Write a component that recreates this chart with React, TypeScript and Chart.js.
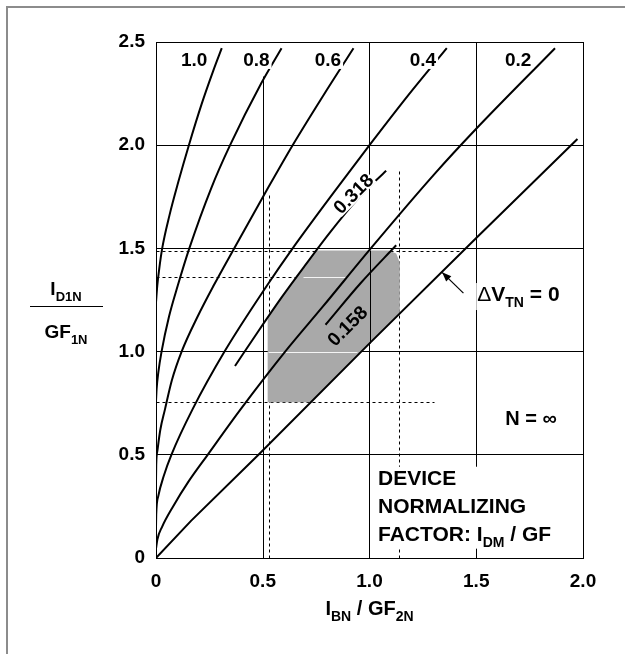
import React, { useEffect, useRef } from 'react';
import { Chart, registerables } from 'chart.js';

Chart.register(...registerables);

const FAMILY = '"Liberation Sans", Arial, Helvetica, sans-serif';

// Axis tick labels
const X_TICKS = ['0', '0.5', '1.0', '1.5', '2.0'];
const Y_TICKS = ['0', '0.5', '1.0', '1.5', '2.0', '2.5'];

// I_D1N / GF_1N against I_BN / GF_2N, one curve per threshold offset, [x, y]
const DVT_1_0 = [[0, 1.24], [0.006, 1.32], [0.015, 1.4], [0.029, 1.5], [0.063, 1.66], [0.104, 1.82], [0.154, 2.0], [0.214, 2.2], [0.268, 2.36], [0.308, 2.47]];
const DVT_0_8 = [[0, 0.76], [0.003, 0.82], [0.011, 0.9], [0.026, 1.0], [0.061, 1.17], [0.102, 1.32], [0.156, 1.5], [0.258, 1.79], [0.347, 2.0], [0.493, 2.3], [0.588, 2.47]];
const DVT_0_6 = [[0, 0.37], [0.001, 0.45], [0.0066, 0.52], [0.02, 0.62], [0.042, 0.72], [0.074, 0.86], [0.12, 1.0], [0.195, 1.17], [0.27, 1.32], [0.366, 1.5], [0.523, 1.79], [0.64, 2.0], [0.783, 2.24], [0.925, 2.47]];
const DVT_0_4 = [[0, 0.15], [0.001, 0.21], [0.0106, 0.3], [0.037, 0.4], [0.072, 0.5], [0.171, 0.72], [0.321, 1.0], [0.52, 1.32], [0.64, 1.5], [0.832, 1.77], [1.0, 2.0], [1.18, 2.24], [1.362, 2.47]];
const DVT_0_2 = [[0, 0.045], [0.0064, 0.09], [0.028, 0.15], [0.08, 0.25], [0.152, 0.37], [0.242, 0.5], [0.396, 0.72], [0.605, 1.0], [0.783, 1.22], [1.006, 1.5], [1.304, 1.86], [1.491, 2.07], [1.869, 2.47]];
const DVT_0 = [[0, 0], [0.164, 0.18], [0.48, 0.5], [1.0, 1.04], [1.5, 1.55], [1.974, 2.03]];
const DVT_0_318 = [[0.37, 0.93], [0.48, 1.1], [0.59, 1.265], [0.7, 1.42], [0.817, 1.58], [0.937, 1.73], [1.031, 1.83], [1.078, 1.876]];
const DVT_0_158 = [[0.794, 1.13], [0.957, 1.33], [1.125, 1.515]];

// Operating region between the 0.318 curve and the ΔV_TN = 0 line
const REGION = [[0.523, 0.755], [0.523, 1.17], [0.59, 1.265], [0.65, 1.35], [0.7, 1.42], [0.75, 1.49], [1.09, 1.49], [1.125, 1.475], [1.142, 1.43], [1.142, 1.19], [0.726, 0.755], [0.523, 0.755]];

// Dashed read-off lines: horizontal [y, x0, x1], vertical [x, y0, y1]
const H_DASHED = [[1.487, 0, 1.424], [1.36, 0, 1.0], [0.755, 0, 1.3]];
const V_DASHED = [[0.53, 0, 1.77], [1.14, 0, 1.88]];

// Grid lines that show white through the shaded region: [y, x0, x1]
const H_LIGHT = [[1.0, 0.523, 0.94], [1.36, 0.69, 0.89]];

const pts = (a: number[][]) => a.map(([x, y]) => ({ x, y }));

function curve(a: number[][], extra: Record<string, unknown> = {}) {
  return {
    data: pts(a),
    showLine: true,
    pointRadius: 0,
    borderColor: '#000',
    borderWidth: 2,
    cubicInterpolationMode: 'monotone',
    fill: false,
    order: 0,
    ...extra,
  };
}

const font = (size: number, weight = 'bold') => `${weight} ${size}px ${FAMILY}`;

type Seg = { t: string; sub?: boolean; normal?: boolean };

function segFont(s: Seg, size: number) {
  return font(s.sub ? Math.round(size * 0.68) : size, s.normal ? 'normal' : 'bold');
}

function measureRich(ctx: CanvasRenderingContext2D, segs: Seg[], size: number) {
  let w = 0;
  for (const s of segs) {
    ctx.font = segFont(s, size);
    w += ctx.measureText(s.t).width;
  }
  return w;
}

function drawRich(ctx: CanvasRenderingContext2D, segs: Seg[], x: number, y: number, size: number, align: 'left' | 'center') {
  const w = measureRich(ctx, segs, size);
  let cx = align === 'center' ? x - w / 2 : x;
  ctx.textAlign = 'left';
  ctx.textBaseline = 'alphabetic';
  for (const s of segs) {
    ctx.font = segFont(s, size);
    ctx.fillText(s.t, cx, s.sub ? y + Math.round(size * 0.3) : y);
    cx += ctx.measureText(s.t).width;
  }
  return w;
}

const annotations = {
  id: 'annotations',
  beforeDatasetsDraw(chart: any) {
    const { ctx, scales } = chart;
    const sx = scales.x, sy = scales.y;
    const ax = (v: number) => Math.round(sx.getPixelForValue(v)) + 0.5;
    const ay = (v: number) => Math.round(sy.getPixelForValue(v)) + 0.5;
    ctx.save();
    ctx.strokeStyle = '#000';
    ctx.lineWidth = 1;
    // 0.5 grid line stops below the curve labels
    ctx.beginPath();
    ctx.moveTo(ax(0.5), ay(0));
    ctx.lineTo(ax(0.5), ay(2.335));
    ctx.stroke();
    ctx.setLineDash([3, 3]);
    for (const [y, x0, x1] of H_DASHED) {
      ctx.beginPath();
      ctx.moveTo(ax(x0), ay(y));
      ctx.lineTo(ax(x1), ay(y));
      ctx.stroke();
    }
    for (const [x, y0, y1] of V_DASHED) {
      ctx.beginPath();
      ctx.moveTo(ax(x), ay(y0));
      ctx.lineTo(ax(x), ay(y1));
      ctx.stroke();
    }
    ctx.restore();
  },
  afterDatasetDraw(chart: any, args: any) {
    if (args.index !== 0) return;
    const { ctx, scales } = chart;
    const sx = scales.x, sy = scales.y;
    const ax = (v: number) => Math.round(sx.getPixelForValue(v)) + 0.5;
    const ay = (v: number) => Math.round(sy.getPixelForValue(v)) + 0.5;
    ctx.save();
    ctx.lineWidth = 1;
    ctx.strokeStyle = '#f4f4f4';
    for (const [y, x0, x1] of H_LIGHT) {
      ctx.beginPath();
      ctx.moveTo(ax(x0), ay(y));
      ctx.lineTo(ax(x1), ay(y));
      ctx.stroke();
    }
    ctx.strokeStyle = '#000';
    ctx.beginPath();
    ctx.moveTo(ax(1.0), ay(1.04));
    ctx.lineTo(ax(1.0), ay(1.49));
    ctx.stroke();
    ctx.restore();
  },
  afterDatasetsDraw(chart: any) {
    const { ctx, scales, chartArea } = chart;
    const sx = scales.x, sy = scales.y;
    const px = (v: number) => sx.getPixelForValue(v);
    const py = (v: number) => sy.getPixelForValue(v);
    ctx.save();
    ctx.fillStyle = '#000';

    // curve labels along the top
    const top: [string, number][] = [['1.0', 0.179], ['0.8', 0.47], ['0.6', 0.805], ['0.4', 1.25], ['0.2', 1.696]];
    ctx.font = font(19);
    ctx.textAlign = 'center';
    ctx.textBaseline = 'middle';
    for (const [t, x] of top) {
      const w = ctx.measureText(t).width;
      ctx.fillStyle = '#fff';
      ctx.fillRect(px(x) - w / 2 - 2, py(2.413) - 9, w + 4, 18);
      ctx.fillStyle = '#000';
      ctx.fillText(t, px(x), py(2.413) + 1);
    }

    // labels written along the curves
    const along: [string, number, number][] = [['0.318', 0.925, 1.765], ['0.158', 0.897, 1.124]];
    for (const [t, x, y] of along) {
      ctx.save();
      ctx.translate(px(x), py(y));
      ctx.rotate(-Math.PI / 4);
      ctx.font = font(19);
      const w = ctx.measureText(t).width;
      if (t === '0.318') {
        ctx.fillStyle = '#fff';
        ctx.fillRect(-w / 2 - 1, -8, w + 2, 16);
      }
      ctx.fillStyle = '#000';
      ctx.textAlign = 'center';
      ctx.textBaseline = 'middle';
      ctx.fillText(t, 0, 1);
      ctx.restore();
    }

    // ΔV_TN = 0 with its arrow
    const dv: Seg[] = [{ t: 'Δ', normal: true }, { t: 'V' }, { t: 'TN', sub: true }, { t: ' = 0' }];
    const dvx = px(1.5) + 1, dvy = py(1.245);
    const dvw = measureRich(ctx, dv, 21);
    ctx.fillStyle = '#fff';
    ctx.fillRect(dvx - 1, dvy - 18, dvw + 4, 27);
    ctx.fillStyle = '#000';
    drawRich(ctx, dv, dvx, dvy, 21, 'left');
    const x1 = px(1.44), y1 = py(1.283), x2 = px(1.34), y2 = py(1.384);
    ctx.strokeStyle = '#000';
    ctx.lineWidth = 1.2;
    ctx.beginPath();
    ctx.moveTo(x1, y1);
    ctx.lineTo(x2, y2);
    ctx.stroke();
    const ang = Math.atan2(y2 - y1, x2 - x1);
    ctx.beginPath();
    ctx.moveTo(x2, y2);
    ctx.lineTo(x2 - 10 * Math.cos(ang - 0.38), y2 - 10 * Math.sin(ang - 0.38));
    ctx.lineTo(x2 - 10 * Math.cos(ang + 0.38), y2 - 10 * Math.sin(ang + 0.38));
    ctx.closePath();
    ctx.fill();

    // N = ∞
    drawRich(ctx, [{ t: 'N = ∞' }], px(1.756), py(0.678) + 7, 20, 'center');

    // normalizing factor note
    const note: Seg[][] = [[{ t: 'DEVICE' }], [{ t: 'NORMALIZING' }], [{ t: 'FACTOR: I' }, { t: 'DM', sub: true }, { t: ' / GF' }]];
    const nx = px(1.04);
    const base = [py(0.355), py(0.219), py(0.084)];
    const nw = Math.max(...note.map((l) => measureRich(ctx, l, 21)));
    ctx.fillStyle = '#fff';
    ctx.fillRect(nx - 3, base[0] - 18, nw + 6, base[2] - base[0] + 26);
    ctx.fillStyle = '#000';
    note.forEach((l, i) => drawRich(ctx, l, nx, base[i], 21, 'left'));

    // axis titles
    const cx = (chartArea.left + chartArea.right) / 2;
    drawRich(ctx, [{ t: 'I' }, { t: 'BN', sub: true }, { t: ' / GF' }, { t: '2N', sub: true }], cx, chartArea.bottom + 57, 20, 'center');
    const ycx = 66;
    const mid = (chartArea.top + chartArea.bottom) / 2;
    drawRich(ctx, [{ t: 'I' }, { t: 'D1N', sub: true }], ycx, mid - 5, 19, 'center');
    ctx.strokeStyle = '#000';
    ctx.lineWidth = 1;
    ctx.beginPath();
    ctx.moveTo(30, Math.round(mid + 6) + 0.5);
    ctx.lineTo(103, Math.round(mid + 6) + 0.5);
    ctx.stroke();
    drawRich(ctx, [{ t: 'GF' }, { t: '1N', sub: true }], ycx, mid + 38, 19, 'center');

    // outer frame
    ctx.strokeStyle = '#8c8c8c';
    ctx.lineWidth = 2;
    ctx.beginPath();
    ctx.moveTo(7, 654);
    ctx.lineTo(7, 7);
    ctx.lineTo(625, 7);
    ctx.stroke();
    ctx.restore();
  },
};

export default function App() {
  const ref = useRef<HTMLCanvasElement>(null);

  useEffect(() => {
    const canvas = ref.current;
    if (!canvas) return;
    const tickFont = { family: FAMILY, size: 19, weight: 'bold' as const };
    const chart = new Chart(canvas, {
      type: 'scatter',
      data: {
        datasets: [
          {
            data: pts(REGION),
            showLine: true,
            pointRadius: 0,
            borderWidth: 0,
            borderColor: 'rgba(0,0,0,0)',
            backgroundColor: '#a9a9a9',
            fill: 'shape',
            tension: 0,
            order: 5,
          } as any,
          curve(DVT_1_0),
          curve(DVT_0_8),
          curve(DVT_0_6),
          curve(DVT_0_4),
          curve(DVT_0_2),
          curve(DVT_0, { cubicInterpolationMode: 'default', tension: 0 }),
          curve(DVT_0_318),
          curve(DVT_0_158),
        ] as any,
      },
      options: {
        animation: false,
        responsive: false,
        maintainAspectRatio: false,
        events: [],
        layout: { padding: { left: 0, top: 42, right: 42, bottom: 0 } },
        plugins: { legend: { display: false }, tooltip: { enabled: false } },
        scales: {
          x: {
            type: 'linear',
            min: 0,
            max: 2,
            afterFit: (s: any) => { s.height = 96; },
            ticks: {
              stepSize: 0.5,
              autoSkip: false,
              maxRotation: 0,
              padding: 12,
              color: '#000',
              font: tickFont,
              callback: (_v: any, i: number) => X_TICKS[i],
            },
            grid: {
              color: (c: any) => (c.tick && Math.abs(c.tick.value - 0.5) < 1e-6 ? 'rgba(0,0,0,0)' : '#000'),
              lineWidth: 1,
              drawTicks: false,
            },
            border: { display: true, color: '#000', width: 1 },
          },
          y: {
            type: 'linear',
            min: 0,
            max: 2.5,
            afterFit: (s: any) => { s.width = 156; },
            ticks: {
              stepSize: 0.5,
              autoSkip: false,
              padding: 11,
              color: '#000',
              font: tickFont,
              callback: (_v: any, i: number) => Y_TICKS[i],
            },
            grid: { color: '#000', lineWidth: 1, drawTicks: false },
            border: { display: true, color: '#000', width: 1 },
          },
        },
      } as any,
      plugins: [annotations],
    });
    return () => chart.destroy();
  }, []);

  return (
    <div style={{ position: 'absolute', left: 0, top: 0, width: 625, height: 654, background: '#fff' }}>
      <canvas ref={ref} width={625} height={654} style={{ display: 'block', width: 625, height: 654 }} />
    </div>
  );
}
